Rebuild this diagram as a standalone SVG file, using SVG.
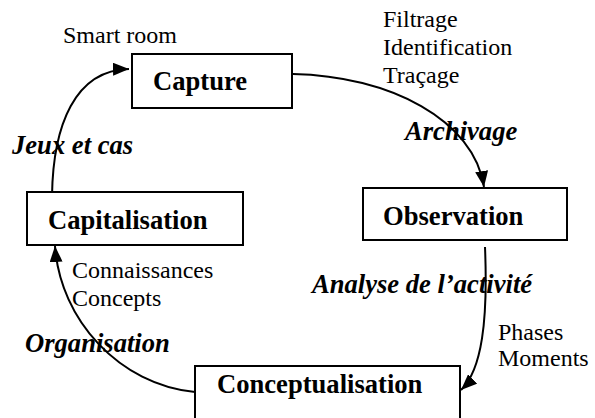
<svg xmlns="http://www.w3.org/2000/svg" width="595" height="418" viewBox="0 0 595 418">
<style>
.box{fill:#fff;stroke:#000;stroke-width:2}
text{font-family:'Liberation Serif','Times New Roman',Times,'DejaVu Serif',serif;fill:#000}
.bt{font-weight:bold;font-size:26.6px}
.it{font-weight:bold;font-style:italic;font-size:26.6px}
.rt{font-size:24px}
.c{fill:none;stroke:#000;stroke-width:2}
</style>
<defs>
<marker id="ah" markerUnits="userSpaceOnUse" markerWidth="17" markerHeight="13" refX="16" refY="6.5" orient="auto">
<path d="M0,0 L16,6.5 L0,13 z" fill="#000"/>
</marker>
</defs>
<rect width="595" height="418" fill="#fff"/>
<g id="connectors">
<path class="c" d="M293,74 C390,76 474,120 484,187" marker-end="url(#ah)"/>
<path class="c" d="M485,247 C488,320 482,370 461,390" marker-end="url(#ah)"/>
<path class="c" d="M195,392 C120,385 60,320 55,246" marker-end="url(#ah)"/>
<path class="c" d="M52,196 C53,125 75,70 129,69" marker-end="url(#ah)"/>
</g>
<g id="capture">
<rect class="box" x="132" y="54" width="160" height="54"/>
<text class="bt" x="153" y="90" font-family="Liberation Serif, serif">Capture</text>
</g>
<g id="observation">
<rect class="box" x="363" y="188" width="204" height="52"/>
<text class="bt" x="383" y="225">Observation</text>
</g>
<g id="capitalisation">
<rect class="box" x="27" y="192" width="216" height="53"/>
<text class="bt" x="48" y="229">Capitalisation</text>
</g>
<g id="conceptualisation">
<rect class="box" x="195" y="366" width="265" height="60"/>
<text class="bt" x="217" y="393">Conceptualisation</text>
</g>
<g id="labels">
<text class="rt" x="63" y="43">Smart room</text>
<text class="rt" x="383" y="27">Filtrage</text>
<text class="rt" x="383" y="55">Identification</text>
<text class="rt" x="383" y="83">Traçage</text>
<text class="it" x="405" y="140">Archivage</text>
<text class="it" x="12" y="154">Jeux et cas</text>
<text class="it" x="312" y="293">Analyse de l’activité</text>
<text class="rt" x="498" y="340">Phases</text>
<text class="rt" x="498" y="366">Moments</text>
<text class="rt" x="72" y="278">Connaissances</text>
<text class="rt" x="72" y="306">Concepts</text>
<text class="it" x="25" y="352">Organisation</text>
</g>
</svg>
